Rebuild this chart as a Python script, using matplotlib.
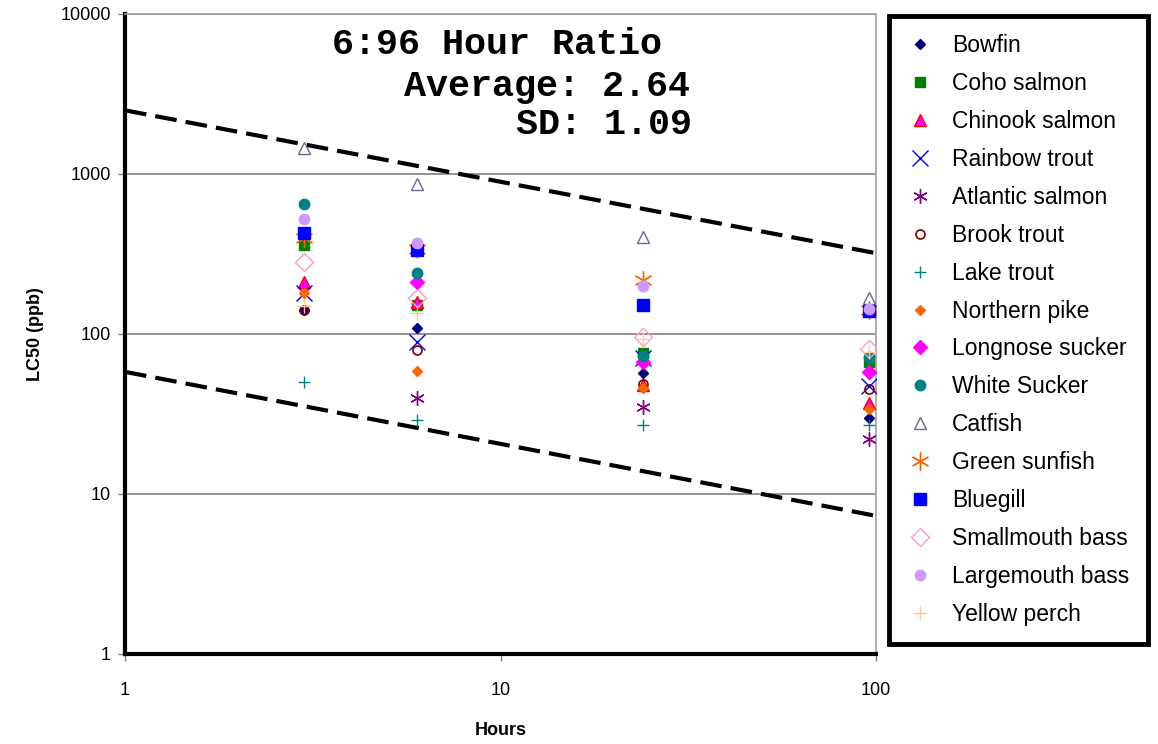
import numpy as np
import matplotlib.pyplot as plt

# sampling times (hours)
hours = [3, 6, 24, 96]

# LC50 values (ppb) per species at 3, 6, 24 and 96 h; nan = no value
bowfin = [141, 109, 57, 30]
coho_salmon = [360, 152, 76, 67]
chinook_salmon = [211, 158, 48, 37]
rainbow_trout = [180, 89, 71, 47]
atlantic_salmon = [np.nan, 40, 35, 22]
brook_trout = [141, 79, 49, 45]
lake_trout = [50, 29, 27, 27]
northern_pike = [180, 59, 46, 34]
longnose_sucker = [np.nan, 211, 67, 58]
white_sucker = [650, 240, 73, 72]
catfish = [1450, 860, 404, 168]
green_sunfish = [400, 340, 218, 141]
bluegill = [428, 335, 152, 139]
smallmouth_bass = [282, 168, 96, 81]
largemouth_bass = [523, 370, 200, 143]
yellow_perch = [150, 135, 93, 77]

# dashed bounds drawn across the whole hour range
band_hours = [1, 100]
upper_bound = [2500, 320]
lower_bound = [58, 7.3]

asterisk = (6, 2, 0)

series = [
    ('Bowfin', bowfin, dict(marker='D', ms=5.5, mfc='#000080', mec='#000080')),
    ('Coho salmon', coho_salmon, dict(marker='s', ms=7.5, mfc='#008000', mec='#008000')),
    ('Chinook salmon', chinook_salmon, dict(marker='^', ms=8, mfc='#FF00FF', mec='#FF0000', mew=1)),
    ('Rainbow trout', rainbow_trout, dict(marker='x', ms=11, mec='#0000FF', mew=1)),
    ('Atlantic salmon', atlantic_salmon, dict(marker=asterisk, ms=10.5, mec='#800080', mew=1)),
    ('Brook trout', brook_trout, dict(marker='o', ms=6.5, mfc='none', mec='#800000', mew=1.2)),
    ('Lake trout', lake_trout, dict(marker='+', ms=9, mec='#008080', mew=1)),
    ('Northern pike', northern_pike, dict(marker='D', ms=5.5, mfc='#FF6600', mec='#FF6600')),
    ('Longnose sucker', longnose_sucker, dict(marker='D', ms=7.5, mfc='#FF00FF', mec='#FF00FF')),
    ('White Sucker', white_sucker, dict(marker='o', ms=7.5, mfc='#008080', mec='#008080')),
    ('Catfish', catfish, dict(marker='^', ms=8, mfc='none', mec='#666699', mew=1)),
    ('Green sunfish', green_sunfish, dict(marker=asterisk, ms=13, mec='#FF6600', mew=1)),
    ('Bluegill', bluegill, dict(marker='s', ms=8, mfc='#0000FF', mec='#0000FF')),
    ('Smallmouth bass', smallmouth_bass, dict(marker='D', ms=9, mfc='none', mec='#FF99CC', mew=1)),
    ('Largemouth bass', largemouth_bass, dict(marker='o', ms=7.5, mfc='#CC99FF', mec='#CC99FF')),
    ('Yellow perch', yellow_perch, dict(marker='+', ms=10, mec='#FFCC99', mew=1)),
]

plt.rcParams['font.family'] = ['Liberation Sans', 'DejaVu Sans']

fig = plt.figure(figsize=(11.58, 7.44), dpi=100)
ax = fig.add_axes([125 / 1158, 1 - 654 / 744, 751 / 1158, 640 / 744])

for name, values, style in series:
    ax.plot(hours, values, linestyle='none', label=name, zorder=3, **style)

dash = (0, (5.2, 2.2))
ax.plot(band_hours, upper_bound, color='black', lw=3, linestyle=dash, zorder=2)
ax.plot(band_hours, lower_bound, color='black', lw=3, linestyle=dash, zorder=2)

ax.set_xscale('log')
ax.set_yscale('log')
ax.set_xlim(1, 100)
ax.set_ylim(1, 10000)
ax.set_xticks([1, 10, 100])
ax.set_xticklabels(['1', '10', '100'])
ax.set_yticks([1, 10, 100, 1000, 10000])
ax.set_yticklabels(['1', '10', '100', '1000', '10000'])
ax.minorticks_off()
ax.yaxis.grid(True, color='#808080', lw=1.2)
ax.set_axisbelow(True)

for side in ('left', 'bottom'):
    ax.spines[side].set_linewidth(3)
    ax.spines[side].set_color('black')
for side in ('top', 'right'):
    ax.spines[side].set_linewidth(1.2)
    ax.spines[side].set_color('#A0A0A0')

ax.tick_params(axis='both', length=5, width=1, color='#808080', labelsize=13)
ax.tick_params(axis='x', pad=15)
ax.tick_params(axis='y', pad=5)

ax.set_xlabel('Hours', fontsize=13, fontweight='bold', labelpad=17)
ax.set_ylabel('LC50 (ppb)', fontsize=13, fontweight='bold', labelpad=12)

mono = dict(family='Liberation Mono', fontweight='bold', fontsize=26.5,
            ha='right', va='center', transform=fig.transFigure)
fig.text(662 / 1158, 1 - 44 / 744, '6:96 Hour Ratio', **mono)
fig.text(690 / 1158, 1 - 86 / 744, 'Average: 2.64', **mono)
fig.text(692 / 1158, 1 - 125 / 744, 'SD: 1.09', **mono)

leg = fig.legend(loc='upper left', bbox_to_anchor=(889 / 1158, 1 - 16 / 744),
                 fontsize=16.5, frameon=True, fancybox=False, edgecolor='black',
                 framealpha=1, labelspacing=0.65, handlelength=1.1,
                 handletextpad=0.85, borderpad=0.8, borderaxespad=0)
leg.get_frame().set_linewidth(3.5)

fig.savefig('out.png', dpi=100)
